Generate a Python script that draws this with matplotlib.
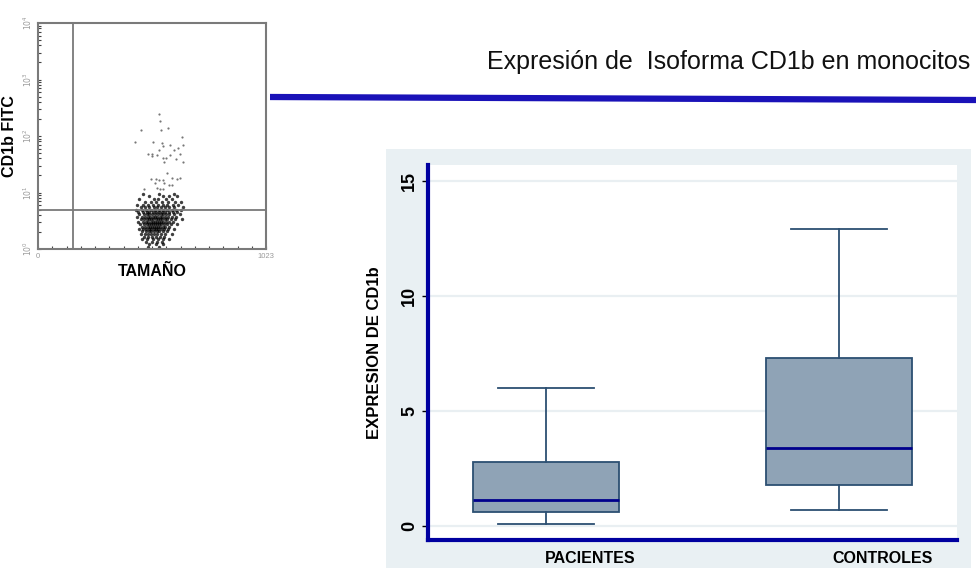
import numpy as np
import matplotlib
matplotlib.use("Agg")
import matplotlib.pyplot as plt
from matplotlib.patches import Rectangle
from matplotlib.lines import Line2D

plt.rcParams['font.family'] = ['Liberation Sans', 'DejaVu Sans']

# ---- datos: diagrama de caja ----
grupos = ["PACIENTES", "CONTROLES"]
bigote_inf = [0.1, 0.71]
q1 = [0.62, 1.81]
mediana = [1.13, 3.42]
q3 = [2.8, 7.3]
bigote_sup = [6.0, 12.9]
yticks = [0, 5, 10, 15]

titulo = "Expresión de  Isoforma CD1b en monocitos"
ylabel_box = "EXPRESION DE CD1b"

# ---- datos: citometría (canal de tamaño, intensidad CD1b FITC) ----
gate_x = 157
gate_y = 4.9
puntos_sueltos = [
    (549, 182), (583, 140), (461, 126), (553, 126), (646, 96), (517, 78),
    (558, 76), (594, 69), (559, 66), (652, 69), (628, 61), (544, 56),
    (610, 56), (494, 49), (512, 49), (535, 47), (591, 47), (636, 49),
    (512, 44), (559, 40), (576, 40), (621, 39), (651, 35), (565, 35),
    (435, 78), (545, 250), (580, 22), (601, 18), (622, 17.5), (637, 18),
    (506, 17), (529, 17.5), (544, 16.5), (562, 16.5), (565, 14.9),
    (524, 14.9), (587, 13.8), (601, 13.8), (535, 12), (547, 11.7),
    (559, 11.7), (476, 11.7),
]
filas_nube = {
    9.5: [470, 545, 610],
    8.5: [500, 560, 590, 625],
    7.6: [455, 520, 540, 575, 600],
    6.8: [480, 505, 530, 555, 585, 615, 640],
    6.1: [445, 470, 495, 515, 540, 560, 580, 605, 630],
    5.5: [460, 480, 500, 520, 535, 550, 570, 590, 610, 650],
    5.0: [440, 465, 485, 505, 525, 545, 560, 580, 600, 620, 640],
    4.5: [450, 470, 490, 500, 515, 530, 545, 555, 570, 590, 605, 625],
    4.1: [455, 475, 488, 500, 512, 525, 538, 550, 562, 575, 590, 610, 635],
    3.7: [445, 465, 480, 492, 503, 514, 525, 536, 547, 558, 570, 585, 600, 620],
    3.35: [460, 475, 488, 498, 508, 518, 528, 538, 548, 558, 568, 580, 595, 615, 645],
    3.05: [450, 470, 484, 495, 505, 515, 524, 533, 542, 552, 562, 574, 588, 605],
    2.75: [458, 474, 487, 497, 507, 516, 525, 534, 543, 553, 565, 578, 595, 625],
    2.5: [465, 480, 492, 502, 512, 521, 530, 539, 549, 560, 572, 590],
    2.25: [455, 472, 486, 498, 509, 519, 529, 540, 552, 565, 582, 610],
    2.05: [468, 483, 496, 508, 520, 532, 545, 560, 578],
    1.85: [460, 478, 493, 507, 521, 535, 550, 570, 600],
    1.65: [475, 492, 510, 528, 546, 565],
    1.5: [468, 490, 515, 540, 560, 590],
    1.35: [485, 510, 535, 555],
    1.22: [500, 530, 560],
    1.1: [495, 545],
}

W, H = 976, 579
fig = plt.figure(figsize=(W / 100, H / 100), dpi=100)


def px_box(l, t, r, b):
    # rect en px -> coordenadas de figura
    return [l / W, 1 - b / H, (r - l) / W, (b - t) / H]


# ====== citometría ======
gris = "#7a7a7a"
ax1 = fig.add_axes(px_box(38, 23, 266, 249))
sx = [p[0] for p in puntos_sueltos]
sy = [p[1] for p in puntos_sueltos]
ax1.scatter(sx, sy, s=2.5, c="#777777", marker="o", linewidths=0)
for yv, xs in filas_nube.items():
    ax1.scatter(xs, [yv] * len(xs), s=6, c="#000000", marker="o", linewidths=0, alpha=0.75)
ax1.set_yscale("log")
ax1.set_xlim(0, 1023)
ax1.set_ylim(1, 1e4)
ax1.axvline(gate_x, color=gris, lw=1.3)
ax1.axhline(gate_y, color=gris, lw=1.3)
for s in ax1.spines.values():
    s.set_color(gris)
    s.set_linewidth(1.5)
ax1.set_xticks([0, 1023])
ax1.set_xticklabels(["0", "1023"], fontsize=5.5, color="#999999")
ax1.set_xticks(np.arange(0, 1024, 64), minor=True)
ax1.set_yticks([1, 10, 100, 1000, 10000])
ax1.set_yticklabels([r"$10^0$", r"$10^1$", r"$10^2$", r"$10^3$", r"$10^4$"],
                    fontsize=5.5, color="#999999", rotation=90, va="center")
ax1.tick_params(axis="both", which="both", direction="in", color="#444444",
                length=2, width=0.8, pad=3)
ax1.set_xlabel("TAMAÑO", fontsize=11.5, fontweight="bold", labelpad=3)
ax1.set_ylabel("CD1b FITC", fontsize=11.5, fontweight="bold", labelpad=3)

# ====== título y línea azul ======
fig.text(970 / W, 1 - 62 / H, titulo, fontsize=18, ha="right", va="center", color="#111111")
fig.add_artist(Line2D([270 / W, 1.0], [1 - 97 / H, 1 - 100 / H], color="#1a12b8",
                      lw=4.5, transform=fig.transFigure, solid_capstyle="butt"))

# ====== panel del diagrama de caja ======
fig.add_artist(Rectangle((386 / W, 1 - 568 / H), (971 - 386) / W, (568 - 149) / H,
                         transform=fig.transFigure, facecolor="#e9f0f3",
                         edgecolor="none", zorder=0))
ax2 = fig.add_axes(px_box(428, 165, 957, 540))
ax2.set_facecolor("white")
stats = []
for i, g in enumerate(grupos):
    stats.append(dict(label=g, whislo=bigote_inf[i], q1=q1[i], med=mediana[i],
                      q3=q3[i], whishi=bigote_sup[i], fliers=[]))
ax2.bxp(stats, positions=[1, 2], widths=0.5, patch_artist=True, showfliers=False,
        boxprops=dict(facecolor="#8fa3b6", edgecolor="#2c4f72", linewidth=1.3),
        whiskerprops=dict(color="#2c4f72", linewidth=1.3),
        capprops=dict(color="#2c4f72", linewidth=1.3),
        capwidths=0.33,
        medianprops=dict(color="#00008c", linewidth=2))
ax2.set_xlim(0.597, 2.403)
ax2.set_ylim(-0.6, 15.7)
ax2.set_yticks(yticks)
ax2.set_yticklabels([str(v) for v in yticks], rotation=90, va="center",
                    fontsize=13, fontweight="bold")
ax2.yaxis.grid(True, color="#e9eff2", lw=1.6)
ax2.set_axisbelow(True)
ax2.set_xticks([])
for i, g in enumerate(grupos):
    ax2.text(i + 1 + 0.15, -1.4, g, ha="center", va="center", fontsize=11.5,
             fontweight="bold")
ax2.tick_params(axis="y", length=4, width=1, color="black", pad=3)
for s in ["top", "right"]:
    ax2.spines[s].set_visible(False)
for s in ["left", "bottom"]:
    ax2.spines[s].set_color("#0000a0")
    ax2.spines[s].set_linewidth(3)
ax2.set_ylabel(ylabel_box, fontsize=12, fontweight="bold", labelpad=14)

fig.savefig("out.png", dpi=100)
